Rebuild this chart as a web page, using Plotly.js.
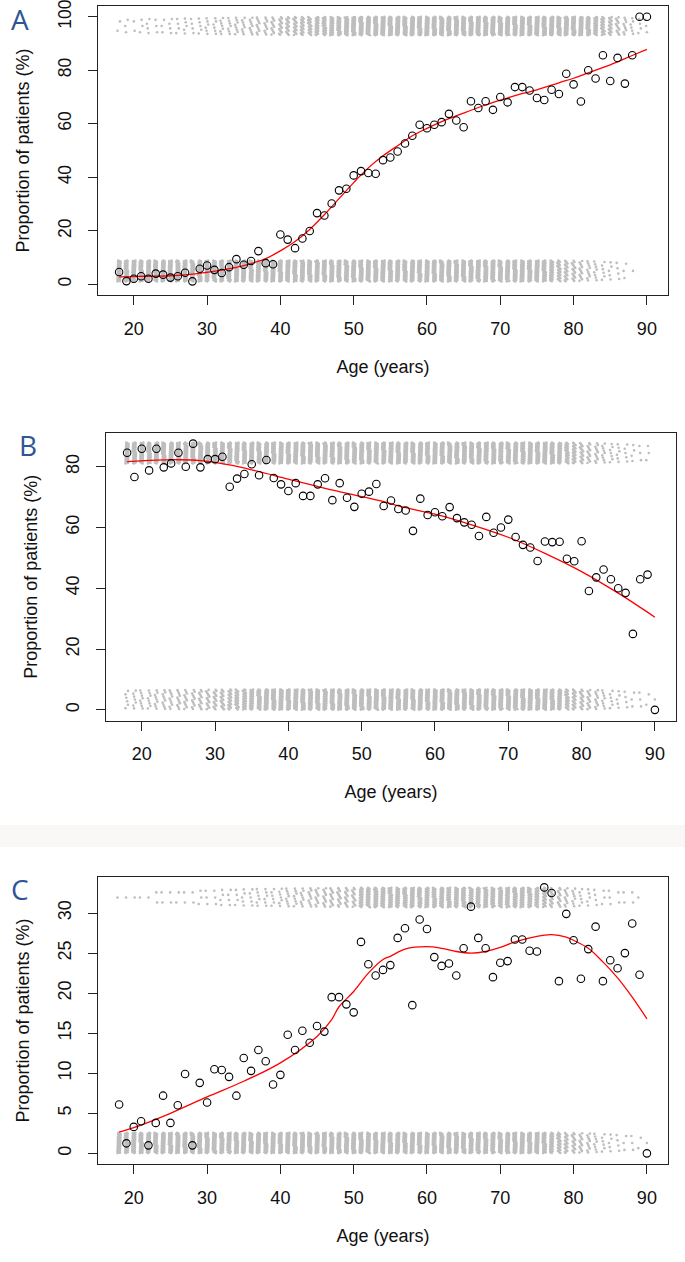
<!DOCTYPE html>
<html><head><meta charset="utf-8">
<script src="https://cdn.plot.ly/plotly-3.0.1.min.js"></script>
<style>html,body{margin:0;padding:0;background:#fff}#chart{width:685px;height:1262px}</style>
</head><body><div id="chart"></div>
<script>
// ---------- data ----------
const ages = [18,19,20,21,22,23,24,25,26,27,28,29,30,31,32,33,34,35,36,37,38,39,40,41,42,43,44,45,46,47,48,49,50,51,52,53,54,55,56,57,58,59,60,61,62,63,64,65,66,67,68,69,70,71,72,73,74,75,76,77,78,79,80,81,82,83,84,85,86,87,88,89,90];

const propA = [4.6,1.2,2.1,3.0,2.1,4.0,3.6,2.5,3.0,4.3,1.1,5.8,7.0,5.4,4.2,6.4,9.4,7.3,8.7,12.4,7.9,7.5,18.6,16.7,13.5,17.1,19.9,26.6,25.7,30.2,35.1,35.7,40.7,42.3,41.6,41.3,46.4,47.4,49.6,52.6,55.5,59.6,58.3,59.6,60.6,63.7,61.2,58.7,68.4,65.9,68.4,65.2,70.0,68.0,73.7,73.7,72.4,69.6,68.9,72.7,71.1,78.7,74.7,68.3,80.0,76.9,85.6,76.0,84.6,75.0,85.6,100,100];
const propB = [84.6,76.6,85.9,78.8,85.9,79.8,81.1,84.6,80.0,87.6,79.8,82.5,82.5,83.3,73.4,76.1,77.6,80.8,77.2,82.2,76.3,74.2,72.0,74.6,70.4,70.4,74.2,76.2,69.0,74.6,69.8,66.8,71.1,71.8,74.3,67.1,68.9,66.1,65.6,58.9,69.5,64.1,65.0,63.7,66.7,63.1,61.7,60.9,57.2,63.5,58.3,60.0,62.6,56.9,54.3,53.4,49.0,55.4,55.2,55.3,49.7,48.9,55.5,39.1,43.6,46.2,43.0,40.0,38.5,25.0,43.0,44.5,0];
const propC = [6.1,1.25,3.3,4.0,1.0,3.8,7.2,3.8,6.0,9.9,1.0,8.8,6.35,10.5,10.4,9.55,7.2,11.9,10.3,12.9,11.5,8.6,9.8,14.8,12.9,15.3,13.8,15.9,15.2,19.5,19.5,18.6,17.6,26.4,23.6,22.2,22.9,23.5,26.9,28.1,18.5,29.2,28.0,24.5,23.4,23.7,22.2,25.6,30.8,26.9,25.6,22.0,23.8,24.0,26.7,26.7,25.3,25.2,33.2,32.5,21.5,29.9,26.6,21.8,25.5,28.3,21.5,24.1,23.1,25.0,28.7,22.3,0];

// fitted (smoothed) curves
const fitAgesA = [18,20,22,25,28,30,32,35,38,40,42,44,46,48,50,52,54,56,58,60,62,65,68,70,72,75,78,80,82,85,88,90];
const fitA = [2.8,2.9,3.0,3.2,3.8,4.5,5.3,7.0,9.6,12.5,16.0,20.5,26.0,32.0,38.0,43.5,48.0,51.8,55.5,58.3,60.8,64.0,67.0,68.8,70.5,72.7,75.3,77.0,79.0,82.0,85.5,87.8];
const fitAgesB = [18,22,25,28,30,35,40,45,50,53,55,60,65,70,75,80,85,90];
const fitB = [81.7,82.2,82.3,82.0,81.4,79.0,75.9,72.9,70.2,68.5,67.1,64.4,60.9,56.8,51.5,45.5,38.4,30.5];
const fitAgesC = [18,20,25,30,35,40,45,47,48,50,52,54,55,57,60,62,64,66,68,70,72,75,77,79,80,82,84,86,88,90];
const fitC = [2.65,3.2,5.0,7.05,9.0,11.3,14.6,16.7,18.3,20.2,22.5,24.2,24.6,25.5,25.8,25.6,25.2,25.0,25.2,25.7,26.4,27.1,27.3,27.0,26.6,25.6,23.9,21.9,19.5,16.8];

// number of individual patients drawn in each jitter band, per age (estimated density)
const topCountA = [2,3,2,3,4,3,3,4,4,5,4,5,6,6,7,7,8,8,9,10,10,12,16,18,20,22,25,28,30,33,35,38,40,42,44,45,45,45,45,45,45,45,45,45,45,45,45,45,45,45,45,45,45,45,45,45,45,45,45,45,45,45,45,40,38,30,25,20,14,9,6,4,3];
const bottomCountA = [45,45,45,45,45,45,45,45,45,45,45,45,45,45,45,45,45,45,45,45,45,45,45,45,45,45,45,45,45,45,45,45,45,45,45,45,45,45,45,45,45,45,45,45,45,45,45,45,45,45,45,45,45,45,45,45,45,45,40,35,28,22,18,14,10,8,6,5,4,3,1,0,0];
const topCountB = [45,45,45,45,45,45,45,45,45,45,45,45,45,45,45,45,45,45,45,45,45,45,45,45,45,45,45,45,45,45,45,45,45,45,45,45,45,45,45,45,45,45,45,45,45,45,45,45,45,45,45,45,45,45,45,45,45,45,45,38,32,26,20,15,12,9,7,6,5,4,3,3,0];
const bottomCountB = [6,7,8,8,9,10,10,11,12,12,14,15,17,20,24,28,32,36,40,45,45,45,45,45,45,45,45,45,45,45,45,45,45,45,45,45,45,45,45,45,45,45,45,45,45,45,45,45,45,45,45,45,45,45,45,45,45,45,40,34,28,22,18,14,11,8,6,5,4,3,3,2,1];
const topCountC = [1,1,1,1,1,2,2,2,2,2,2,3,3,3,4,4,4,5,5,6,6,6,7,8,8,9,10,11,12,13,14,15,16,30,32,34,35,35,35,35,35,35,35,35,35,35,35,35,35,35,35,35,35,35,35,35,35,30,24,18,14,11,8,6,5,4,3,3,2,2,2,1,0];
const bottomCountC = [45,45,45,45,45,45,45,45,45,45,45,45,45,45,45,45,45,45,45,45,45,45,45,45,45,45,45,45,45,45,45,45,45,45,45,45,45,45,45,45,45,45,45,45,45,45,45,45,45,45,45,45,45,45,45,45,45,45,40,34,28,22,18,14,11,8,6,5,4,3,3,2,1];

const xTicks = [20,30,40,50,60,70,80,90];
const yTicksA = [0,20,40,60,80,100];
const yTicksB = [0,20,40,60,80];
const yTicksC = [0,5,10,15,20,25,30];

// ---------- drawing ----------
function frac(v){ return v - Math.floor(v); }
function jitter(counts, lo, hi, xa, ya){
  const xs=[], ys=[];
  counts.forEach((n,k)=>{
    for(let i=0;i<n;i++){
      const fy = (i + 0.5) / n;                       // evenly spread through the band
      const fx = frac(i*0.7548776662 + k*0.3819660113); // spread across the column width
      xs.push(ages[k] + (fx-0.5)*0.45);
      ys.push(lo + fy*(hi-lo));
    }
  });
  return {type:'scatter', mode:'markers', x:xs, y:ys, xaxis:xa, yaxis:ya,
    marker:{size:2.6, color:'#BEBEBE'}, hoverinfo:'skip', showlegend:false};
}
function pts(vals, xa, ya){
  return {type:'scatter', mode:'markers', x:ages, y:vals, xaxis:xa, yaxis:ya,
    marker:{symbol:'circle-open', size:7.5, color:'#000', line:{width:1.1, color:'#000'}}, showlegend:false};
}
function fit(xv, yv, xa, ya){
  return {type:'scatter', mode:'lines', x:xv, y:yv, xaxis:xa, yaxis:ya,
    line:{color:'#FF0000', width:1.3, shape:'spline', smoothing:1}, showlegend:false};
}

const traces = [
  jitter(topCountA, 93, 100, 'x', 'y'), jitter(bottomCountA, 1, 9, 'x', 'y'),
  fit(fitAgesA, fitA, 'x', 'y'), pts(propA, 'x', 'y'),
  jitter(topCountB, 81, 88, 'x2', 'y2'), jitter(bottomCountB, 0, 6.8, 'x2', 'y2'),
  fit(fitAgesB, fitB, 'x2', 'y2'), pts(propB, 'x2', 'y2'),
  jitter(topCountC, 30.7, 33.2, 'x3', 'y3'), jitter(bottomCountC, 0, 2.6, 'x3', 'y3'),
  fit(fitAgesC, fitC, 'x3', 'y3'), pts(propC, 'x3', 'y3')
];

const FONT = 'Liberation Sans, Arial, sans-serif';
function xax(dom, anchor){
  return {domain:dom, anchor:anchor, range:[15.12, 92.88], tickvals:xTicks, ticktext:xTicks.map(String),
    showline:true, mirror:true, linecolor:'#222', linewidth:1, ticks:'outside', ticklen:9, tickcolor:'#222',
    showgrid:false, zeroline:false, ticklabelstandoff:8, ticklabeloverflow:'allow',
    tickfont:{family:FONT, size:18, color:'#111'},
    title:{text:'Age (years)', font:{family:FONT, size:18, color:'#111'}, standoff:22}};
}
function yax(dom, anchor, range, ticks, fs){
  return {domain:dom, anchor:anchor, range:range, tickvals:ticks, ticktext:ticks.map(String), tickangle:-90,
    showline:true, mirror:true, linecolor:'#222', linewidth:1, ticks:'outside', ticklen:9, tickcolor:'#222',
    showgrid:false, zeroline:false, ticklabelstandoff:10, ticklabeloverflow:'allow',
    tickfont:{family:FONT, size:fs, color:'#111'},
    title:{text:'Proportion of patients (%)', font:{family:FONT, size:18, color:'#111'}, standoff:20}};
}
const W=685, H=1262;
const px = v => v/W, py = v => 1 - v/H;
const letterFont = {family:'Open Sans, sans-serif', size:28, color:'#2F5597'};

const layout = {
  width:W, height:H, margin:{l:0,r:0,t:0,b:0}, paper_bgcolor:'#fff', plot_bgcolor:'#fff',
  showlegend:false,
  xaxis: xax([px(98), px(668)], 'y'),
  yaxis: yax([py(295), py(6)], 'x', [-4, 104], yTicksA, 17.5),
  xaxis2: xax([px(106), px(676)], 'y2'),
  yaxis2: yax([py(720.5), py(433)], 'x2', [-3.5, 91.1], yTicksB, 18),
  xaxis3: xax([px(98), px(668)], 'y3'),
  yaxis3: yax([py(1164), py(877)], 'x3', [-1.33, 34.5], yTicksC, 18),
  shapes:[{type:'rect', xref:'paper', yref:'paper', x0:0, x1:1, y0:py(847), y1:py(825),
    fillcolor:'#F9F8F6', line:{width:0}, layer:'below'}],
  annotations:[
    {text:'A', x:px(20), y:py(19), xref:'paper', yref:'paper', xanchor:'center', yanchor:'middle', showarrow:false, font:letterFont},
    {text:'B', x:px(28), y:py(445), xref:'paper', yref:'paper', xanchor:'center', yanchor:'middle', showarrow:false, font:letterFont},
    {text:'C', x:px(20), y:py(889), xref:'paper', yref:'paper', xanchor:'center', yanchor:'middle', showarrow:false, font:letterFont}
  ]
};
Plotly.newPlot('chart', traces, layout, {staticPlot:true, displayModeBar:false});
</script></body></html>
